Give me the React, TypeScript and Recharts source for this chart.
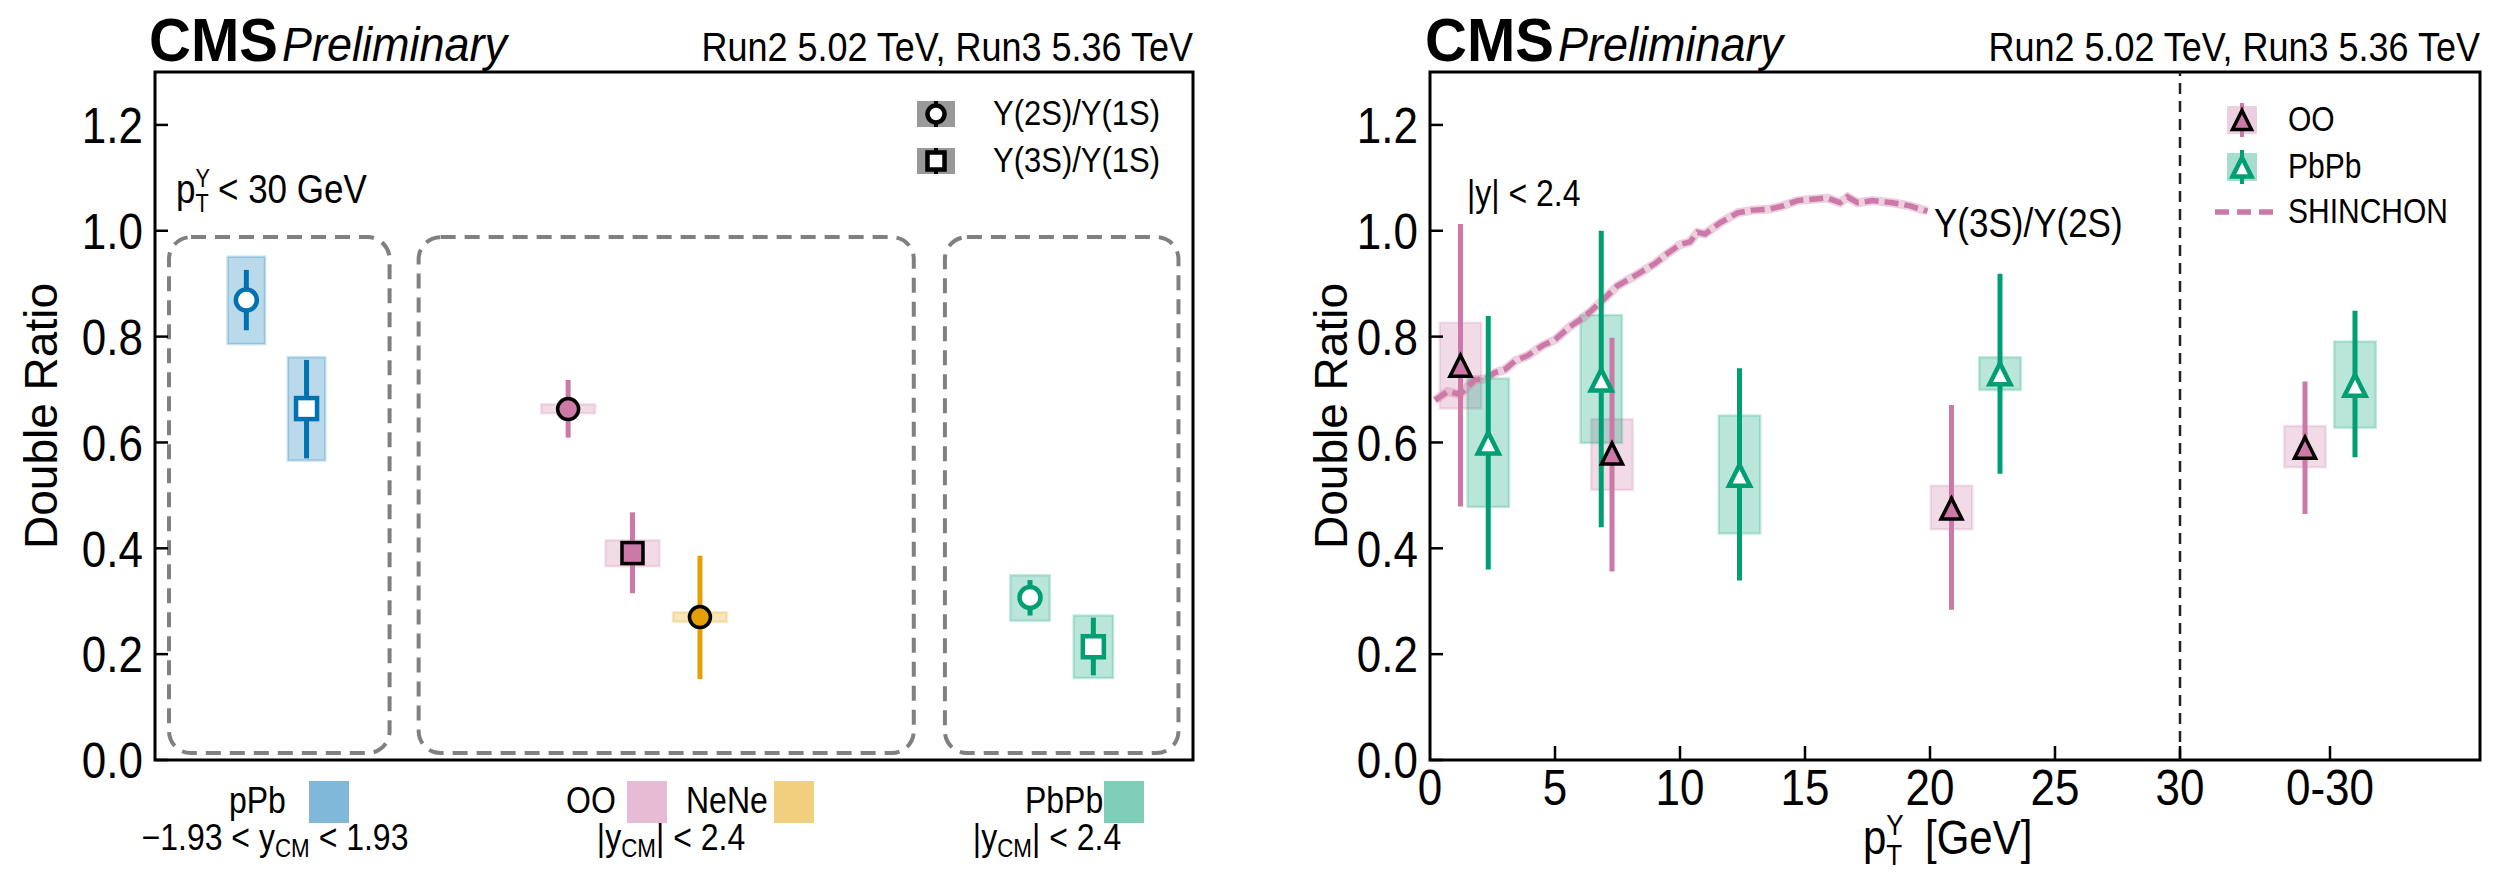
import React from "react";
import {
  ComposedChart,
  Scatter,
  Line,
  XAxis,
  YAxis,
  ErrorBar,
  ReferenceArea,
  ReferenceLine,
} from "recharts";

const FONT = "'Liberation Sans', Arial, Helvetica, sans-serif";
const SY = 1.15; // glyphs in the figure are a little taller than Liberation Sans

// ---- left panel: Y(nS)/Y(1S) double ratios, pT < 30 GeV ----
const leftSystems = ["pPb", "OO", "NeNe", "PbPb"];
const x2S = [0.88, 3.98, 5.25, 8.43];
const ratio2S = [0.869, 0.663, 0.27, 0.307];
const stat2SLow = [0.812, 0.609, 0.153, 0.273];
const stat2SHigh = [0.926, 0.718, 0.386, 0.34];
const syst2SLow = [0.786, 0.655, 0.261, 0.263];
const syst2SHigh = [0.951, 0.672, 0.279, 0.349];

const systems3S = ["pPb", "OO", "PbPb"];
const x3S = [1.46, 4.6, 9.04];
const ratio3S = [0.664, 0.391, 0.214];
const stat3SLow = [0.57, 0.315, 0.16];
const stat3SHigh = [0.756, 0.468, 0.269];
const syst3SLow = [0.566, 0.366, 0.155];
const syst3SHigh = [0.761, 0.415, 0.273];

// ---- right panel: Y(3S)/Y(2S) double ratio vs pT (36 = the 0-30 bin) ----
const ooPt = [1.22, 7.28, 20.86, 35.0];
const ooRatio = [0.745, 0.579, 0.475, 0.59];
const ooStatLow = [0.479, 0.356, 0.284, 0.465];
const ooStatHigh = [1.013, 0.798, 0.671, 0.715];
const ooSystLow = [0.664, 0.51, 0.436, 0.553];
const ooSystHigh = [0.826, 0.644, 0.518, 0.631];

const pbPt = [2.33, 6.85, 12.38, 22.8, 37.0];
const pbRatio = [0.599, 0.718, 0.538, 0.73, 0.708];
const pbStatLow = [0.36, 0.44, 0.339, 0.541, 0.572];
const pbStatHigh = [0.839, 1.0, 0.74, 0.919, 0.849];
const pbSystLow = [0.478, 0.599, 0.428, 0.699, 0.628];
const pbSystHigh = [0.721, 0.841, 0.651, 0.761, 0.791];

const shinPt = [
  0.2, 0.7, 1.2, 1.8, 2.2, 2.6, 3.0, 3.4, 3.9, 4.5, 5.0, 5.6, 6.1, 6.5, 7.0,
  7.5, 8.2, 9.0, 9.5, 10.0, 10.4, 10.7, 11.0, 11.6, 12.3, 12.9, 13.6, 14.1,
  14.7, 15.2, 15.9, 16.4, 16.7, 17.1, 17.7, 18.5, 19.2, 19.9,
];
const shinRatio = [
  0.68, 0.696, 0.691, 0.719, 0.72, 0.732, 0.738, 0.754, 0.764, 0.783, 0.794,
  0.819, 0.835, 0.851, 0.873, 0.896, 0.915, 0.938, 0.957, 0.974, 0.979, 0.997,
  0.994, 1.015, 1.034, 1.039, 1.041, 1.047, 1.057, 1.059, 1.062, 1.053, 1.064,
  1.053, 1.057, 1.053, 1.047, 1.037,
];

const yTicks = [0, 0.2, 0.4, 0.6, 0.8, 1.0, 1.2];
const ptTicks = [0, 5, 10, 15, 20, 25, 30, 36];
const ptTickLabels = ["0", "5", "10", "15", "20", "25", "30", "0-30"];

// ---- styles ----
const COLORS: Record<string, string> = {
  pPb: "#0072B2",
  OO: "#CC79A7",
  NeNe: "#E69F00",
  PbPb: "#009E73",
};
const FILLED: Record<string, boolean> = { pPb: false, OO: true, NeNe: true, PbPb: false };
const BOX_HALF: Record<string, number> = { pPb: 0.18, OO: 0.26, NeNe: 0.26, PbPb: 0.19 };
const PT_BOX_HALF = 0.83;
// dashed category frames on the left panel (x units)
const GROUP_FROM = [0.135, 2.54, 7.61];
const GROUP_TO = [2.26, 7.31, 9.86];

const toRows = (xs: number[], ys: number[], sLo: number[], sHi: number[], bLo: number[], bHi: number[]) =>
  xs.map((x, i) => ({
    x,
    y: ys[i],
    err: [ys[i] - sLo[i], sHi[i] - ys[i]],
    lo: bLo[i],
    hi: bHi[i],
  }));

const rows2S = toRows(x2S, ratio2S, stat2SLow, stat2SHigh, syst2SLow, syst2SHigh);
const rows3S = toRows(x3S, ratio3S, stat3SLow, stat3SHigh, syst3SLow, syst3SHigh);
const ooRows = toRows(ooPt, ooRatio, ooStatLow, ooStatHigh, ooSystLow, ooSystHigh);
const pbRows = toRows(pbPt, pbRatio, pbStatLow, pbStatHigh, pbSystLow, pbSystHigh);
const shinRows = shinPt.map((x, i) => ({ x, y: shinRatio[i] }));

const Marker = ({ kind, cx, cy, color, filled, s = 10.5 }: any) => {
  const fill = filled ? color : "#fff";
  const stroke = filled ? "#000" : color;
  const sw = filled ? 3.5 : 4.5;
  if (kind === "circle") return <circle cx={cx} cy={cy} r={s} fill={fill} stroke={stroke} strokeWidth={sw} />;
  if (kind === "square")
    return <rect x={cx - s} y={cy - s} width={2 * s} height={2 * s} fill={fill} stroke={stroke} strokeWidth={sw} />;
  return (
    <path
      d={`M${cx},${cy - s}L${cx + s},${cy + s}L${cx - s},${cy + s}Z`}
      fill={fill}
      stroke={stroke}
      strokeWidth={sw}
      strokeLinejoin="miter"
    />
  );
};

const stretch = (x: number, y: number, sy = SY) => `translate(${x} ${y}) scale(1 ${sy})`;

const LeftTick = (p: any) => (
  <g>
    <line x1={p.x + 12} x2={p.x + 25} y1={p.y} y2={p.y} stroke="#000" strokeWidth={2.5} />
    <text
      transform={stretch(p.x, p.y)}
      dy="0.36em"
      textAnchor="end"
      fontSize={44}
      fontFamily={FONT}
      fill="#000"
    >
      {Number(p.payload.value).toFixed(1)}
    </text>
  </g>
);
const RightTick = (p: any) => <line x1={p.x} x2={p.x - 13} y1={p.y} y2={p.y} stroke="#000" strokeWidth={2.5} />;
const TopTick = (p: any) => <line x1={p.x} x2={p.x} y1={p.y} y2={p.y + 13} stroke="#000" strokeWidth={2.5} />;
const BottomTick = (p: any) => {
  const i = ptTicks.indexOf(p.payload.value);
  return (
    <g>
      {p.payload.value !== 0 && (
        <line x1={p.x} x2={p.x} y1={p.y - 9} y2={p.y - 22} stroke="#000" strokeWidth={2.5} />
      )}
      <text transform={stretch(p.x, p.y)} dy="0.73em" textAnchor="middle" fontSize={44} fontFamily={FONT} fill="#000">
        {ptTickLabels[i]}
      </text>
    </g>
  );
};

const Box = (k: string, r: any, c: string, half: number) => (
  <ReferenceArea
    key={k}
    x1={r.x - half}
    x2={r.x + half}
    y1={r.lo}
    y2={r.hi}
    fill={c}
    fillOpacity={0.27}
    stroke={c}
    strokeOpacity={0.22}
    strokeWidth={2.5}
    ifOverflow="visible"
  />
);

const Frame = (xMax: number) => (
  <ReferenceArea
    x1={0}
    x2={xMax}
    y1={0}
    y2={1.3}
    fill="none"
    fillOpacity={0}
    stroke="#000"
    strokeWidth={3}
    ifOverflow="visible"
  />
);

const LeftPanel = () => (
  <ComposedChart width={1250} height={880} margin={{ top: 72, right: 57, bottom: 120, left: 0 }}>
    <XAxis type="number" dataKey="x" domain={[0, 10]} hide allowDataOverflow />
    <YAxis
      type="number"
      dataKey="y"
      domain={[0, 1.3]}
      ticks={yTicks}
      interval={0}
      width={155}
      tickSize={0}
      tickMargin={12}
      axisLine={false}
      tickLine={false}
      tick={LeftTick}
      allowDataOverflow
    />
    <YAxis
      yAxisId="r"
      orientation="right"
      type="number"
      domain={[0, 1.3]}
      ticks={yTicks.slice(1)}
      interval={0}
      width={0}
      tickSize={0}
      tickMargin={0}
      axisLine={false}
      tickLine={false}
      tick={RightTick}
    />
    {GROUP_FROM.map((g, i) => (
      <ReferenceArea
        key={"grp" + i}
        x1={g}
        x2={GROUP_TO[i]}
        y1={0.013}
        y2={0.988}
        ifOverflow="visible"
        shape={(p: any) => (
          <rect
            x={p.x}
            y={p.y}
            width={p.width}
            height={p.height}
            rx={22}
            ry={22}
            fill="none"
            stroke="#808080"
            strokeWidth={4}
            strokeDasharray="15 9"
          />
        )}
      />
    ))}
    {leftSystems.map((s, i) => Box("b2" + s, rows2S[i], COLORS[s], BOX_HALF[s]))}
    {systems3S.map((s, i) => Box("b3" + s, rows3S[i], COLORS[s], BOX_HALF[s]))}
    {Frame(10)}
    {leftSystems.map((s, i) => (
      <Scatter
        key={"p2" + s}
        data={[rows2S[i]]}
        dataKey="y"
        isAnimationActive={false}
        shape={(p: any) => <Marker kind="circle" cx={p.cx} cy={p.cy} color={COLORS[s]} filled={FILLED[s]} />}
      >
        <ErrorBar dataKey="err" direction="y" width={0} stroke={COLORS[s]} strokeWidth={5} isAnimationActive={false} />
      </Scatter>
    ))}
    {systems3S.map((s, i) => (
      <Scatter
        key={"p3" + s}
        data={[rows3S[i]]}
        dataKey="y"
        isAnimationActive={false}
        shape={(p: any) => <Marker kind="square" cx={p.cx} cy={p.cy} color={COLORS[s]} filled={FILLED[s]} />}
      >
        <ErrorBar dataKey="err" direction="y" width={0} stroke={COLORS[s]} strokeWidth={5} isAnimationActive={false} />
      </Scatter>
    ))}
  </ComposedChart>
);

const RightPanel = () => (
  <ComposedChart width={1255} height={880} margin={{ top: 72, right: 25, bottom: 60, left: 0 }}>
    <XAxis
      type="number"
      dataKey="x"
      domain={[0, 42]}
      ticks={ptTicks}
      interval={0}
      height={60}
      tickSize={0}
      tickMargin={8}
      axisLine={false}
      tickLine={false}
      tick={BottomTick}
      allowDataOverflow
    />
    <XAxis
      xAxisId="t"
      orientation="top"
      type="number"
      domain={[0, 42]}
      ticks={ptTicks.slice(1)}
      interval={0}
      height={0}
      tickSize={0}
      tickMargin={0}
      axisLine={false}
      tickLine={false}
      tick={TopTick}
    />
    <YAxis
      type="number"
      dataKey="y"
      domain={[0, 1.3]}
      ticks={yTicks}
      interval={0}
      width={180}
      tickSize={0}
      tickMargin={12}
      axisLine={false}
      tickLine={false}
      tick={LeftTick}
      allowDataOverflow
    />
    <YAxis
      yAxisId="r"
      orientation="right"
      type="number"
      domain={[0, 1.3]}
      ticks={yTicks.slice(1)}
      interval={0}
      width={0}
      tickSize={0}
      tickMargin={0}
      axisLine={false}
      tickLine={false}
      tick={RightTick}
    />
    {ooRows.map((r, i) => Box("bo" + i, r, COLORS.OO, PT_BOX_HALF))}
    {pbRows.map((r, i) => Box("bp" + i, r, COLORS.PbPb, PT_BOX_HALF))}
    <ReferenceLine x={30} stroke="#222" strokeWidth={2.5} strokeDasharray="11 7" ifOverflow="visible" />
    {Frame(42)}
    <Line
      data={shinRows}
      dataKey="y"
      type="linear"
      stroke={COLORS.OO}
      strokeOpacity={0.35}
      strokeWidth={9}
      dot={false}
      activeDot={false}
      isAnimationActive={false}
    />
    <Line
      data={shinRows}
      dataKey="y"
      type="linear"
      stroke={COLORS.OO}
      strokeWidth={5.5}
      strokeDasharray="14 6"
      dot={false}
      activeDot={false}
      isAnimationActive={false}
    />
    <Scatter
      data={pbRows}
      dataKey="y"
      isAnimationActive={false}
      shape={(p: any) => <Marker kind="tri" cx={p.cx} cy={p.cy} color={COLORS.PbPb} filled={false} />}
    >
      <ErrorBar dataKey="err" direction="y" width={0} stroke={COLORS.PbPb} strokeWidth={5} isAnimationActive={false} />
    </Scatter>
    <Scatter
      data={ooRows}
      dataKey="y"
      isAnimationActive={false}
      shape={(p: any) => <Marker kind="tri" cx={p.cx} cy={p.cy} color={COLORS.OO} filled />}
    >
      <ErrorBar dataKey="err" direction="y" width={0} stroke={COLORS.OO} strokeWidth={5} isAnimationActive={false} />
    </Scatter>
  </ComposedChart>
);

const T = ({ x, y, size, anchor = "start", weight = "normal", italic = false, sy = SY, children }: any) => (
  <text
    transform={stretch(x, y, sy)}
    fontSize={size}
    fontFamily={FONT}
    fontWeight={weight}
    fontStyle={italic ? "italic" : "normal"}
    textAnchor={anchor}
    fill="#000"
  >
    {children}
  </text>
);

// p with subscript T and superscript Upsilon
const PtY = ({ x, y, size }: any) => {
  const pw = 0.556 * size;
  const small = size * 0.62;
  return (
    <g transform={stretch(x, y)} fontFamily={FONT} fill="#000">
      <text x={0} y={0} fontSize={size}>p</text>
      <text x={pw} y={size * 0.22} fontSize={small}>T</text>
      <text x={pw} y={-size * 0.4} fontSize={small}>Υ</text>
    </g>
  );
};

const Header = ({ left, right }: any) => (
  <g>
    <T x={left} y={61} size={58} weight="bold" sy={1.05}>CMS</T>
    <T x={left + 133} y={61} size={45} italic sy={1.08}>Preliminary</T>
    <T x={right} y={61} size={36} anchor="end">Run2 5.02 TeV, Run3 5.36 TeV</T>
  </g>
);

const YCM = ({ x, y, size, pre, post }: any) => (
  <text transform={stretch(x, y)} fontSize={size} fontFamily={FONT} textAnchor="middle" fill="#000">
    {pre}y
    <tspan fontSize={size * 0.7} dy={size * 0.2}>CM</tspan>
    <tspan dy={-size * 0.2}>{post}</tspan>
  </text>
);

const Overlay = () => (
  <svg width={2505} height={880} style={{ position: "absolute", left: 0, top: 0, pointerEvents: "none" }}>
    <Header left={149} right={1193} />
    <Header left={1425} right={2480} />
    <text x={57} y={416} transform="rotate(-90 57 416)" fontSize={46} fontFamily={FONT} textAnchor="middle">
      Double Ratio
    </text>
    <text x={1347} y={416} transform="rotate(-90 1347 416)" fontSize={46} fontFamily={FONT} textAnchor="middle">
      Double Ratio
    </text>

    {/* left panel annotations */}
    <PtY x={176} y={203} size={35} />
    <T x={218} y={203} size={35}>{"< 30 GeV"}</T>

    {/* left legend */}
    {[
      { kind: "circle", label: "Υ(2S)/Υ(1S)", y: 114 },
      { kind: "square", label: "Υ(3S)/Υ(1S)", y: 161 },
    ].map((e) => (
      <g key={e.label}>
        <rect x={917} y={e.y - 13} width={38} height={26} fill="#999" />
        <line x1={936} x2={936} y1={e.y - 13} y2={e.y + 13} stroke="#000" strokeWidth={4} />
        <Marker kind={e.kind} cx={936} cy={e.y} color="#000" filled={false} s={8.5} />
        <T x={993} y={e.y + 11} size={31}>{e.label}</T>
      </g>
    ))}

    {/* left panel category labels */}
    <T x={229} y={813} size={32}>pPb</T>
    <rect x={309} y={781} width={40} height={42} fill={COLORS.pPb} fillOpacity={0.5} />
    <YCM x={275} y={850} size={32} pre="−1.93 < " post=" < 1.93" />

    <T x={566} y={813} size={32}>OO</T>
    <rect x={627} y={781} width={40} height={42} fill={COLORS.OO} fillOpacity={0.5} />
    <T x={686} y={813} size={32}>NeNe</T>
    <rect x={774} y={781} width={40} height={42} fill={COLORS.NeNe} fillOpacity={0.5} />
    <YCM x={671} y={850} size={32} pre="|" post="| < 2.4" />

    <T x={1025} y={813} size={32}>PbPb</T>
    <rect x={1104} y={781} width={40} height={42} fill={COLORS.PbPb} fillOpacity={0.5} />
    <YCM x={1047} y={850} size={32} pre="|" post="| < 2.4" />

    {/* right panel annotations */}
    <T x={1467} y={206} size={32}>{"|y| < 2.4"}</T>
    <T x={1934} y={237} size={35}>Υ(3S)/Υ(2S)</T>

    {/* right legend */}
    <rect x={2227} y={106} width={30} height={28} fill={COLORS.OO} fillOpacity={0.35} />
    <line x1={2242} x2={2242} y1={103} y2={137} stroke={COLORS.OO} strokeWidth={4} />
    <Marker kind="tri" cx={2242} cy={120} color={COLORS.OO} filled s={9.5} />
    <T x={2288} y={131} size={30}>OO</T>

    <rect x={2227} y={153} width={30} height={28} fill={COLORS.PbPb} fillOpacity={0.35} />
    <line x1={2242} x2={2242} y1={150} y2={184} stroke={COLORS.PbPb} strokeWidth={4} />
    <Marker kind="tri" cx={2242} cy={167} color={COLORS.PbPb} filled={false} s={9.5} />
    <T x={2288} y={178} size={30}>PbPb</T>

    <line x1={2215} x2={2277} y1={212} y2={212} stroke={COLORS.OO} strokeWidth={5.5} strokeDasharray="14 8" />
    <T x={2288} y={223} size={30}>SHINCHON</T>

    {/* x axis title */}
    <PtY x={1863} y={854} size={42} />
    <T x={1925} y={854} size={42}>[GeV]</T>
  </svg>
);

export default function App() {
  return (
    <div
      style={{
        position: "absolute",
        left: 0,
        top: 0,
        width: 2505,
        height: 880,
        background: "#fff",
        fontFamily: FONT,
      }}
    >
      <div style={{ position: "absolute", left: 0, top: 0 }}>
        <LeftPanel />
      </div>
      <div style={{ position: "absolute", left: 1250, top: 0 }}>
        <RightPanel />
      </div>
      <Overlay />
    </div>
  );
}
